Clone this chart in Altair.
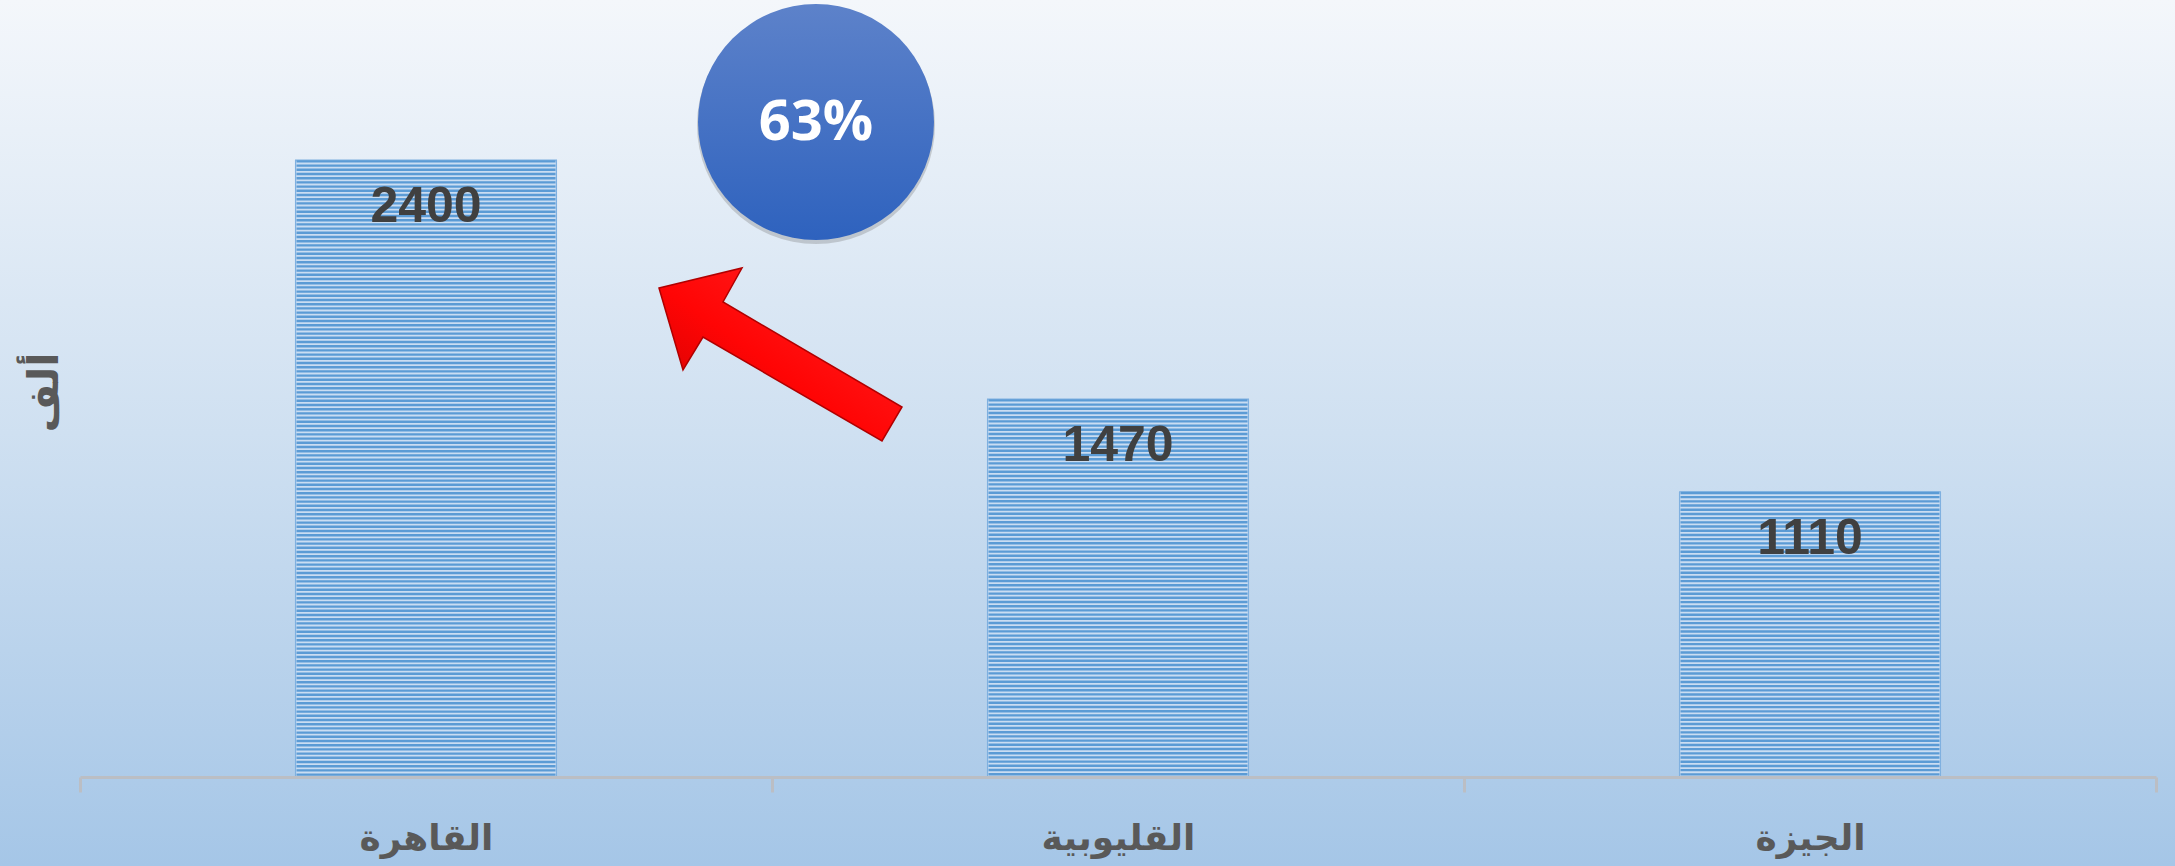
import altair as alt
import pandas as pd

# ---- data ----
categories = ["القاهرة", "القليوبية", "الجيزة"]
values = [2400, 1470, 1110]
y_title = "ألف"
highlight_label = "63%"

df = pd.DataFrame({"region": categories, "value": values})
one = pd.DataFrame({"k": [0]})

W, H = 2076, 771
PAD = {"left": 80, "top": 6, "right": 19, "bottom": 89}

xenc = alt.X(
    "region:N",
    sort=categories,
    scale=alt.Scale(paddingInner=0, paddingOuter=0),
    axis=alt.Axis(
        title=None,
        labelAngle=0,
        labelFont="DejaVu Sans",
        labelFontSize=36,
        labelFontWeight="bold",
        labelColor="#595959",
        labelBaseline="middle",
        labelPadding=46,
        domainColor="#BBBEC4",
        domainWidth=3,
        tickColor="#BBBEC4",
        tickWidth=3,
        tickSize=15,
        tickBand="extent",
        grid=False,
        zindex=2,
    ),
)
yscale = alt.Scale(domain=[0, 3000], nice=False)
yenc = alt.Y(
    "value:Q",
    scale=yscale,
    axis=alt.Axis(
        title=y_title,
        labels=False,
        ticks=False,
        domain=False,
        grid=False,
        titleFont="DejaVu Sans",
        titleFontSize=42,
        titleFontWeight="bold",
        titleColor="#595959",
        titleAngle=270,
        titleAlign="center",
        titleBaseline="middle",
        titleX=-36,
        titleY=386,
        zindex=2,
    ),
)

bg = alt.Chart(one).mark_rect(
    color=alt.Gradient(
        gradient="linear",
        stops=[
            alt.GradientStop(color="#F4F7FB", offset=0),
            alt.GradientStop(color="#CFE0F1", offset=0.5),
            alt.GradientStop(color="#A5C6E7", offset=1),
        ],
        x1=0, y1=0, x2=0, y2=1,
    )
).encode(
    x=alt.value(-80), x2=alt.value(2095), y=alt.value(-6), y2=alt.value(860)
)

bars = alt.Chart(df).mark_bar(
    width=alt.RelativeBandSize(0.377),
    color="#CADDF2",
    stroke="#7FB0E0",
    strokeWidth=1.2,
).encode(x=xenc, y=yenc)

stripes = alt.Chart(df).mark_rule(
    strokeWidth=259,
    strokeDash=[2.4, 1.8],
    strokeCap="butt",
    color="#5B9BD5",
).encode(
    x=alt.X("region:N", sort=categories),
    y=alt.Y("value:Q", scale=yscale),
    y2=alt.datum(0),
)

labels = alt.Chart(df).mark_text(
    font="Liberation Sans",
    fontSize=50,
    fontWeight="bold",
    color="#404040",
    baseline="middle",
    dy=47,
).encode(
    x=alt.X("region:N", sort=categories),
    y=alt.Y("value:Q", scale=yscale),
    text="value:Q",
)

circle_shadow = alt.Chart(one).mark_point(
    shape="circle", filled=True, color="#707070", opacity=0.3, size=238 ** 2
).encode(x=alt.value(736), y=alt.value(119))

circle = alt.Chart(one).mark_point(
    shape="circle",
    filled=True,
    opacity=1,
    size=236 ** 2,
    fill=alt.Gradient(
        gradient="linear",
        stops=[
            alt.GradientStop(color="#5D82CA", offset=0),
            alt.GradientStop(color="#2E62BE", offset=1),
        ],
        x1=0, y1=0, x2=0, y2=1,
    ),
).encode(x=alt.value(736), y=alt.value(116))

circle_text = alt.Chart(one).mark_text(
    text=highlight_label,
    font="Open Sans",
    fontSize=56,
    fontWeight="bold",
    color="white",
    baseline="middle",
    align="center",
).encode(x=alt.value(736), y=alt.value(117))

arrow_path = (
    "M -0.972 -0.532 L -0.308 -0.692 L -0.46 -0.42 L 0.972 0.42 "
    "L 0.812 0.692 L -0.62 -0.14 L -0.78 0.124 Z"
)
arrow = alt.Chart(one).mark_point(
    shape=arrow_path,
    filled=True,
    opacity=1,
    size=250 ** 2,
    fill=alt.Gradient(
        gradient="linear",
        stops=[
            alt.GradientStop(color="#C80000", offset=0),
            alt.GradientStop(color="#FF0505", offset=0.45),
            alt.GradientStop(color="#FF2A2A", offset=1),
        ],
        x1=0, y1=1, x2=1, y2=0,
    ),
    stroke="#B00000",
    strokeWidth=1.5,
).encode(x=alt.value(700.5), y=alt.value(348.5))

chart = (
    alt.layer(bg, bars, stripes, labels, circle_shadow, circle, circle_text, arrow)
    .properties(
        width=W,
        height=H,
        padding=PAD,
        autosize=alt.AutoSizeParams(type="none"),
        background="#A5C6E7",
    )
    .configure_view(strokeWidth=0)
)

chart.save("out.html", embed_options={"renderer": "svg", "actions": False})
